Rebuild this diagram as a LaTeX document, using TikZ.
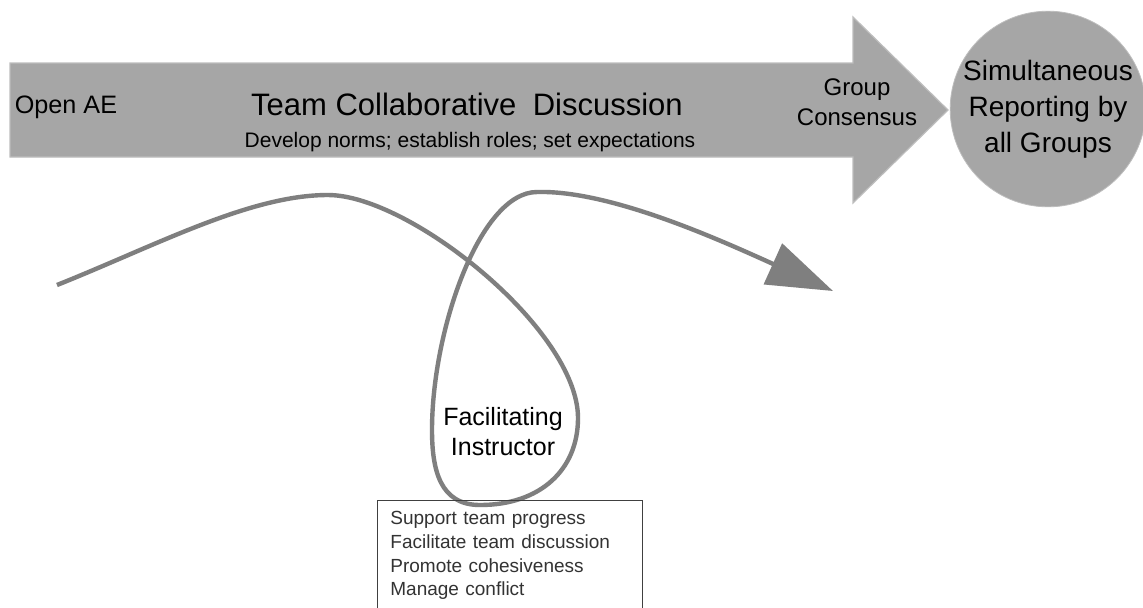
\documentclass[tikz,border=0pt]{standalone}
\usepackage{fontspec}
\setmainfont{Liberation Sans}
\usepackage{tikz}
\usetikzlibrary{arrows.meta}
\definecolor{fillgray}{HTML}{A6A6A6}
\definecolor{edgegray}{HTML}{BDBDBD}
\definecolor{loopgray}{HTML}{7F7F7F}

\begin{document}
\begin{tikzpicture}[x=0.5pt, y=-0.5pt,
    txt/.style={align=center, inner sep=0pt, text=black},
    loopline/.style={draw=loopgray, line width=2.2pt}]
    \clip (0,0) rectangle (1143,607);
    \fill[white] (0,0) rectangle (1143,607);

    \draw[edgegray, fill=fillgray, line width=0.6pt] (10,63) -- (853,63) -- (853,17) -- (948,110) -- (853,203) -- (853,157) -- (10,157) -- cycle;
    \node (report) [circle, draw=edgegray, fill=fillgray, minimum size=95pt, inner sep=0pt, align=center, font=\fontsize{14}{18}\selectfont] at (1048,109) {Simultaneous\\Reporting by\\all Groups};

    \node (open) [txt, font=\fontsize{12.6}{14}\selectfont] at (66,107) {Open AE};
    \node (team) [txt, font=\fontsize{15.5}{18}\selectfont] at (467,104) {Team Collaborative\hspace{0.25em} Discussion};
    \node (norms) [txt, font=\fontsize{10.5}{12}\selectfont] at (470,142) {Develop norms; establish roles; set expectations};
    \node (consensus) [txt, font=\fontsize{12}{15}\selectfont] at (857,102) {Group\\Consensus};

    \draw[loopline, -{Triangle[length=33pt, width=22pt]}] (57,285) .. controls (157,245) and (250,195) .. (328,195) .. controls (410,195) and (578,330) .. (578,418) .. controls (578,470) and (540,505) .. (480,505) .. controls (440,505) and (432,470) .. (432,430) .. controls (432,330) and (480,192) .. (537,192) .. controls (610,190) and (720,240) .. (833,291);

    \node (instructor) [txt, font=\fontsize{12.5}{15}\selectfont] at (503,432) {Facilitating\\Instructor};
    \node (tasks) [anchor=north west, align=left, text width=119.5pt, inner xsep=6.5pt, inner ysep=5.5pt, text=black!80, font=\fontsize{9.5}{11.85}\selectfont] at (377,500) {Support team progress\\Facilitate team discussion\\Promote cohesiveness\\Manage conflict};
    \draw[black!75, line width=0.5pt] (tasks.north west) rectangle (tasks.east |- 0,625);
\end{tikzpicture}
\end{document}
